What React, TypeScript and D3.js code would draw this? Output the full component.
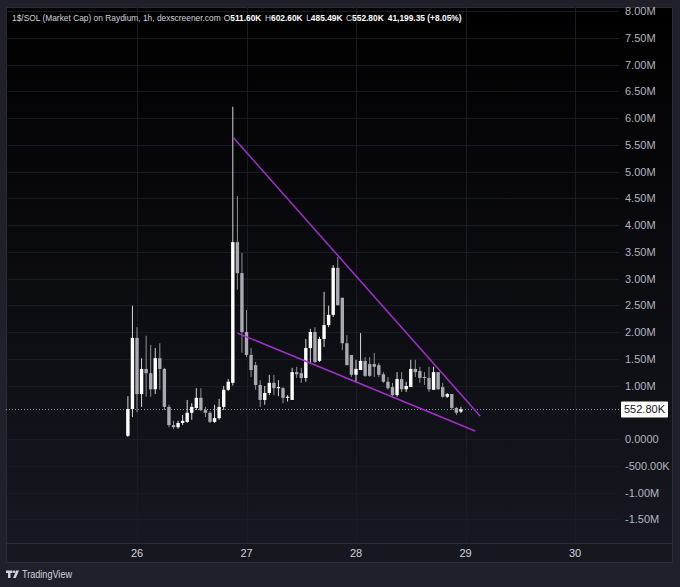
import React from "react";
import * as d3 from "d3";

// hourly candles, values in millions, first candle at 25th 22:00 UTC
const startTime = Date.UTC(2024, 4, 25, 22);
const opens = [
	0.06, 0.56, 1.89, 0.84, 1.31, 1.23, 0.93, 1.51, 1.31, 0.6, 0.26, 0.22, 0.3, 0.32, 0.49, 0.58, 0.77, 0.54,
	0.49, 0.32, 0.39, 0.6, 0.92, 1.05, 3.68, 3.1, 2.0, 1.57, 1.38, 1.01, 0.73, 0.86, 1.05, 0.95, 0.95, 0.77,
	0.73, 1.25, 1.23, 1.14, 1.7, 2.0, 1.46, 1.87, 2.13, 2.32, 3.2, 2.64, 1.79, 1.57, 1.2, 1.29, 1.46, 1.4,
	1.4, 1.38, 1.21, 1.07, 0.97, 0.82, 1.12, 0.93, 0.97, 1.31, 1.27, 1.16, 1.14, 0.92, 1.25, 0.97, 0.79,
	0.84, 0.58, 0.5116,
];
const highs = [
	0.8, 2.49, 2.09, 1.51, 1.93, 1.76, 1.7, 1.79, 1.33, 0.64, 0.34, 0.34, 0.45, 0.73, 0.67, 0.95, 0.95, 0.6,
	0.52, 0.64, 0.75, 0.99, 1.12, 6.21, 4.54, 3.48, 2.41, 1.7, 1.44, 1.1, 0.99, 1.2, 1.2, 1.1, 0.97, 0.82,
	1.33, 1.35, 1.33, 1.87, 2.06, 2.09, 1.91, 2.75, 2.49, 3.25, 3.4, 2.64, 1.94, 1.57, 1.48, 1.98, 1.53, 1.53,
	1.61, 1.42, 1.25, 1.16, 1.05, 1.25, 1.25, 1.07, 1.48, 1.48, 1.35, 1.25, 1.35, 1.35, 1.25, 1.05, 0.86,
	0.84, 0.6, 0.6026,
];
const lows = [
	0.04, 0.41, 0.5, 0.6, 0.79, 0.79, 0.84, 0.92, 0.54, 0.22, 0.19, 0.19, 0.26, 0.3, 0.36, 0.54, 0.52, 0.41,
	0.3, 0.3, 0.36, 0.54, 0.9, 1.0, 2.79, 1.61, 1.53, 1.16, 0.92, 0.6, 0.64, 0.82, 0.82, 0.8, 0.67, 0.7,
	0.73, 1.14, 1.05, 1.07, 1.42, 1.42, 1.44, 1.72, 2.09, 2.28, 2.5, 1.66, 1.38, 1.16, 1.05, 1.29, 1.16, 1.16,
	1.16, 1.16, 1.05, 0.92, 0.79, 0.79, 0.88, 0.88, 0.97, 1.16, 1.05, 1.01, 0.88, 0.92, 0.92, 0.77, 0.77,
	0.54, 0.45, 0.4855,
];
const closes = [
	0.56, 1.89, 0.84, 1.31, 1.23, 0.93, 1.51, 1.31, 0.6, 0.26, 0.22, 0.3, 0.34, 0.49, 0.6, 0.77, 0.54, 0.49,
	0.32, 0.39, 0.6, 0.92, 1.07, 3.68, 3.1, 2.0, 1.57, 1.29, 1.01, 0.73, 0.86, 1.05, 0.95, 0.97, 0.77, 0.79,
	1.25, 1.21, 1.14, 1.7, 2.0, 1.44, 1.87, 2.13, 2.32, 3.2, 2.5, 1.79, 1.38, 1.2, 1.31, 1.46, 1.18, 1.18,
	1.35, 1.2, 1.07, 0.95, 0.82, 1.12, 0.93, 0.99, 1.31, 1.25, 1.14, 1.14, 0.93, 1.25, 0.93, 0.79, 0.84,
	0.58, 0.49, 0.5528,
];

// trendlines drawn on the chart: [hours after start, value in millions]
const upperLine = [
	[23.15, 5.63],
	[77.2, 0.43],
];
const lowerLine = [
	[24.0, 1.98],
	[76.1, 0.15],
];

const dayTicks = [26, 27, 28, 29, 30];
const priceTicks = [8, 7.5, 7, 6.5, 6, 5.5, 5, 4.5, 4, 3.5, 3, 2.5, 2, 1.5, 1, 0, -0.5, -1, -1.5];
const priceLabels = [
	"8.00M", "7.50M", "7.00M", "6.50M", "6.00M", "5.50M", "5.00M", "4.50M", "4.00M", "3.50M",
	"3.00M", "2.50M", "2.00M", "1.50M", "1.00M", "0.0000", "-500.00K", "-1.00M", "-1.50M",
];
const lastPrice = 0.5528;
const lastLabel = "552.80K";

const title = "1$/SOL (Market Cap) on Raydium, 1h, dexscreener.com";
const ohlcKeys = ["O", "H", "L", "C"];
const ohlcValues = ["511.60K", "602.60K", "485.49K", "552.80K"];
const changeLabel = "41,199.35 (+8.05%)";

const W = 680;
const H = 587;
const FONT = "'Liberation Sans', Arial, sans-serif";
const HOUR = 3600 * 1000;

const App: React.FC = () => {
	const left = 6;
	const right = 673;
	const top = 7;
	const plotRight = 619;
	const plotBottom = 543;
	const bottom = 563;

	const x = d3
		.scaleUtc()
		.domain([new Date(Date.UTC(2024, 4, 26)), new Date(Date.UTC(2024, 4, 30))])
		.range([137, 575]);
	const y = d3.scaleLinear().domain([0, 8]).range([439, 11]);

	const candles = opens.map((o, i) => ({
		t: new Date(startTime + i * HOUR),
		o,
		h: highs[i],
		l: lows[i],
		c: closes[i],
	}));
	const bw = 3.4;

	const line = d3
		.line<number[]>()
		.x((d) => x(new Date(startTime + d[0] * HOUR)))
		.y((d) => y(d[1]));

	return (
		<svg
			width={W}
			height={H}
			style={{position: "absolute", left: 0, top: 0, display: "block"}}
			fontFamily={FONT}
		>
			<defs>
				<linearGradient id="bg" x1="0" y1="0" x2="0" y2="1">
					<stop offset="0%" stopColor="#000000" />
					<stop offset="100%" stopColor="#161720" />
				</linearGradient>
				<clipPath id="plot">
					<rect x={left} y={top} width={plotRight - left} height={plotBottom - top} />
				</clipPath>
			</defs>
			<rect width={W} height={H} fill="#1f2029" />
			<rect x={left} y={top} width={right - left} height={plotBottom - top} fill="url(#bg)" />
			<rect x={left} y={plotBottom} width={right - left} height={bottom - plotBottom} fill="#16171f" />
			<line x1={left} x2={right} y1={plotBottom + 0.5} y2={plotBottom + 0.5} stroke="#2b2c36" />
			<rect
				x={left + 0.5}
				y={top + 0.5}
				width={right - left - 1}
				height={bottom - top - 1}
				fill="none"
				stroke="#2b2c36"
			/>

			{/* grid */}
			<g stroke="#1a1b24" strokeWidth={1}>
				{priceTicks.map((p) => (
					<line key={p} x1={left} x2={plotRight} y1={Math.round(y(p)) + 0.5} y2={Math.round(y(p)) + 0.5} />
				))}
				{dayTicks.map((d) => {
					const xx = Math.round(x(new Date(Date.UTC(2024, 4, d)))) + 0.5;
					return <line key={d} x1={xx} x2={xx} y1={top} y2={plotBottom} />;
				})}
			</g>

			<g clipPath="url(#plot)">
				{/* last price dotted line */}
				<line
					x1={left}
					x2={plotRight}
					y1={Math.round(y(lastPrice)) + 0.5}
					y2={Math.round(y(lastPrice)) + 0.5}
					stroke="#9598a1"
					strokeDasharray="1 2"
				/>
				{candles.map((d, i) => {
					const up = d.c >= d.o;
					const cx = x(d.t);
					const yTop = y(Math.max(d.o, d.c));
					const yBot = y(Math.min(d.o, d.c));
					return (
						<g key={i}>
							<line
								x1={cx}
								x2={cx}
								y1={y(d.h)}
								y2={y(d.l)}
								stroke={up ? "#d6d6da" : "#8f8f98"}
								strokeWidth={1}
							/>
							<rect
								x={cx - bw / 2}
								y={yTop}
								width={bw}
								height={Math.max(1, yBot - yTop)}
								fill={up ? "#ffffff" : "#a9a9b2"}
							/>
						</g>
					);
				})}
				<path d={line(upperLine) || ""} stroke="#a030c8" strokeWidth={1.5} fill="none" />
				<path d={line(lowerLine) || ""} stroke="#a030c8" strokeWidth={1.5} fill="none" />
			</g>

			{/* price axis */}
			<g fontSize={11} fill="#b2b5be">
				{priceTicks.map((p, i) => (
					<text key={p} x={625} y={y(p)} dominantBaseline="central">
						{priceLabels[i]}
					</text>
				))}
			</g>
			<rect x={621} y={y(lastPrice) - 8} width={47} height={16} fill="#ffffff" rx={1} />
			<text x={624} y={y(lastPrice)} dominantBaseline="central" fontSize={11} fill="#131722">
				{lastLabel}
			</text>

			{/* time axis */}
			<g fontSize={11} fill="#d1d4dc" textAnchor="middle">
				{dayTicks.map((d) => (
					<text key={d} x={x(new Date(Date.UTC(2024, 4, d)))} y={553} dominantBaseline="central">
						{d}
					</text>
				))}
			</g>

			{/* legend */}
			<text x={12} y={20.5} fontSize={8.4} fill="#d1d4dc">
				{title}
				{ohlcKeys.map((k, i) => (
					<React.Fragment key={k}>
						<tspan dx={i === 0 ? 3 : 3.5}>{k}</tspan>
						<tspan fill="#ffffff" fontWeight={700}>{ohlcValues[i]}</tspan>
					</React.Fragment>
				))}
				<tspan dx={4} fill="#ffffff" fontWeight={700}>{changeLabel}</tspan>
			</text>

			{/* TradingView logo */}
			<g fill="#d1d4dc">
				<path d="M6 570.5h6.5v2.6h-2v5h-2.5v-5h-2z" />
				<circle cx={14.2} cy={571.8} r={1.3} />
				<path d="M16.2 570.5h2.8l-3.2 7.6h-2.7z" />
			</g>
			<text x={22} y={578} fontSize={11} fill="#d1d4dc" textLength={50} lengthAdjust="spacingAndGlyphs">
				TradingView
			</text>
		</svg>
	);
};

export default App;
